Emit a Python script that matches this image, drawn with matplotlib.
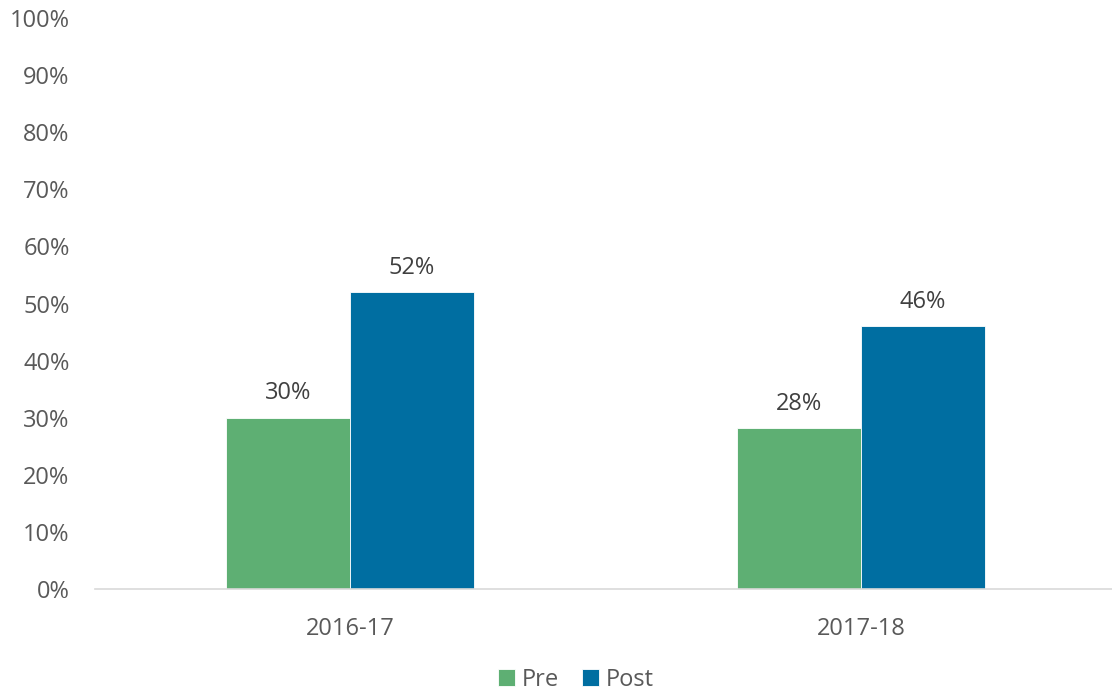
import numpy as np
import matplotlib
matplotlib.use("Agg")
import matplotlib.pyplot as plt
from matplotlib.ticker import PercentFormatter

plt.rcParams['font.family'] = ['Open Sans', 'DejaVu Sans']

years = ["2016-17", "2017-18"]
pre = [30, 28.2]
post = [52, 46]
series_names = ["Pre", "Post"]
colors = ["#5EAF73", "#006EA1"]
text_color = "#595959"

fig = plt.figure(figsize=(11.12, 6.96), dpi=100)
ax = fig.add_axes([0.085, 0.1537, 0.919, 0.8203])

x = np.arange(len(years))
w = 0.242
bars_pre = ax.bar(x - w / 2, pre, w, color=colors[0], label=series_names[0], edgecolor="white", linewidth=0.6)
bars_post = ax.bar(x + w / 2, post, w, color=colors[1], label=series_names[1], edgecolor="white", linewidth=0.6)

for bars in (bars_pre, bars_post):
    for b in bars:
        ax.annotate(f"{b.get_height():.0f}%", (b.get_x() + b.get_width() / 2, b.get_height()),
                    xytext=(0, 9), textcoords="offset points", ha="center", va="bottom",
                    fontsize=17, color="#404040")

ax.set_xlim(-0.5, 1.5)
ax.set_ylim(0, 100)
ax.set_yticks(range(0, 101, 10))
ax.yaxis.set_major_formatter(PercentFormatter(decimals=0))
ax.set_xticks(x)
ax.set_xticklabels(years)
ax.tick_params(axis="both", length=0, labelsize=17, labelcolor=text_color)
ax.tick_params(axis="y", pad=18)
ax.tick_params(axis="x", pad=20)

for s in ("top", "right", "left"):
    ax.spines[s].set_visible(False)
ax.spines["bottom"].set_color("#D9D9D9")
ax.spines["bottom"].set_linewidth(1.2)

leg = fig.legend(loc="center", bbox_to_anchor=(0.518, 0.023), ncol=2, frameon=False,
                 fontsize=17, handlelength=0.7, handleheight=0.7, handletextpad=0.3,
                 columnspacing=1.0)
for t in leg.get_texts():
    t.set_color(text_color)

fig.savefig("out.png", dpi=100)
